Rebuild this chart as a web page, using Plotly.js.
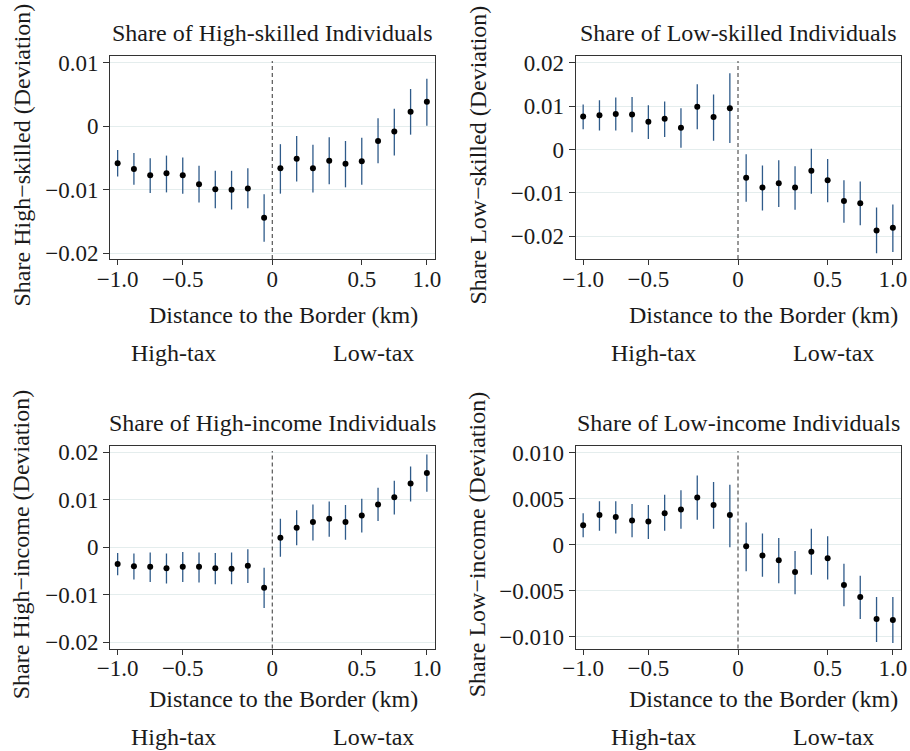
<!DOCTYPE html>
<html>
<head>
<meta charset="utf-8">
<script src="https://cdn.plot.ly/plotly-3.0.1.min.js"></script>
<style>html,body{margin:0;padding:0;background:#fff;}#chart{width:910px;height:751px;}</style>
</head>
<body>
<div id="chart"></div>
<script>
// Bin positions (20 equally spaced distance bins, border between bin 10 and 11)
const bins = [1,2,3,4,5,6,7,8,9,10,11,12,13,14,15,16,17,18,19,20];
const xTickVals = [1, 5, 10.5, 16, 20];
const xTickText = ['\u22121.0', '\u22120.5', '0', '0.5', '1.0'];

// Panel 1: Share of High-skilled Individuals
const hsEst = [-0.0058,-0.0067,-0.0077,-0.0074,-0.0077,-0.0091,-0.0099,-0.0100,-0.0098,-0.0144,-0.0066,-0.0051,-0.0066,-0.0054,-0.0059,-0.0055,-0.0023,-0.0008,0.0023,0.0039];
const hsHi  = [-0.0037,-0.0042,-0.0050,-0.0046,-0.0049,-0.0062,-0.0070,-0.0070,-0.0066,-0.0107,-0.0028,-0.0015,-0.0029,-0.0017,-0.0023,-0.0018,0.0013,0.0028,0.0059,0.0075];
const hsLo  = [-0.0079,-0.0092,-0.0105,-0.0104,-0.0106,-0.0120,-0.0129,-0.0131,-0.0129,-0.0182,-0.0106,-0.0087,-0.0104,-0.0091,-0.0096,-0.0092,-0.0058,-0.0046,-0.0013,0.0001];
const hsTickVals = [0.01, 0, -0.01, -0.02];
const hsTickText = ['0.01', '0', '\u22120.01', '\u22120.02'];

// Panel 2: Share of Low-skilled Individuals
const lsEst = [0.0076,0.0079,0.0082,0.0081,0.0064,0.0071,0.0050,0.0099,0.0075,0.0095,-0.0065,-0.0088,-0.0078,-0.0088,-0.0049,-0.0071,-0.0119,-0.0124,-0.0187,-0.0181];
const lsHi  = [0.0104,0.0114,0.0120,0.0121,0.0102,0.0111,0.0095,0.0151,0.0127,0.0176,-0.0011,-0.0037,-0.0025,-0.0039,0.0002,-0.0022,-0.0071,-0.0074,-0.0134,-0.0127];
const lsLo  = [0.0047,0.0044,0.0044,0.0040,0.0024,0.0029,0.0004,0.0047,0.0020,0.0015,-0.0121,-0.0141,-0.0133,-0.0139,-0.0102,-0.0122,-0.0169,-0.0175,-0.0240,-0.0237];
const lsTickVals = [0.02, 0.01, 0, -0.01, -0.02];
const lsTickText = ['0.02', '0.01', '0', '\u22120.01', '\u22120.02'];

// Panel 3: Share of High-income Individuals
const hiEst = [-0.0035,-0.0040,-0.0041,-0.0044,-0.0041,-0.0041,-0.0044,-0.0045,-0.0039,-0.0085,0.0020,0.0041,0.0053,0.0060,0.0053,0.0067,0.0090,0.0105,0.0134,0.0156];
const hiHi  = [-0.0012,-0.0013,-0.0011,-0.0013,-0.0010,-0.0011,-0.0012,-0.0011,-0.0004,-0.0043,0.0060,0.0078,0.0090,0.0096,0.0089,0.0102,0.0125,0.0140,0.0170,0.0195];
const hiLo  = [-0.0059,-0.0068,-0.0073,-0.0076,-0.0073,-0.0074,-0.0078,-0.0078,-0.0075,-0.0128,-0.0020,0.0004,0.0014,0.0022,0.0016,0.0031,0.0055,0.0069,0.0096,0.0117];
const hiTickVals = [0.02, 0.01, 0, -0.01, -0.02];
const hiTickText = ['0.02', '0.01', '0', '\u22120.01', '\u22120.02'];

// Panel 4: Share of Low-income Individuals
const liEst = [0.0021,0.0032,0.0030,0.0026,0.0025,0.0034,0.0038,0.0051,0.0043,0.0032,-0.0002,-0.0012,-0.0017,-0.0030,-0.0008,-0.0015,-0.0044,-0.0057,-0.0081,-0.0082];
const liHi  = [0.0034,0.0047,0.0047,0.0044,0.0043,0.0054,0.0059,0.0075,0.0068,0.0065,0.0024,0.0012,0.0007,-0.0007,0.0017,0.0009,-0.0021,-0.0034,-0.0057,-0.0057];
const liLo  = [0.0008,0.0015,0.0012,0.0008,0.0006,0.0015,0.0017,0.0027,0.0017,-0.0003,-0.0029,-0.0035,-0.0042,-0.0054,-0.0033,-0.0038,-0.0067,-0.0081,-0.0106,-0.0107];
const liTickVals = [0.010, 0.005, 0, -0.005, -0.010];
const liTickText = ['0.010', '0.005', '0', '\u22120.005', '\u22120.010'];

const panelTitles = ['Share of High-skilled Individuals', 'Share of Low-skilled Individuals',
                     'Share of High-income Individuals', 'Share of Low-income Individuals'];
const yTitles = ['Share High\u2212skilled (Deviation)', 'Share Low\u2212skilled (Deviation)',
                 'Share High\u2212income (Deviation)', 'Share Low\u2212income (Deviation)'];
const xTitle = 'Distance to the Border (km)';
const sideLabels = ['High-tax', 'Low-tax'];

const FONT = 'Liberation Serif, Times New Roman, serif';
const W = 910, H = 751;
const px = v => v / W;
const py = v => 1 - v / H;

const panels = [
  {est: hsEst, lo: hsLo, hi: hsHi, tv: hsTickVals, tt: hsTickText, range: [-0.0209, 0.0111]},
  {est: lsEst, lo: lsLo, hi: lsHi, tv: lsTickVals, tt: lsTickText, range: [-0.0253, 0.0216]},
  {est: hiEst, lo: hiLo, hi: hiHi, tv: hiTickVals, tt: hiTickText, range: [-0.0213, 0.0213]},
  {est: liEst, lo: liLo, hi: liHi, tv: liTickVals, tt: liTickText, range: [-0.0113, 0.0107]}
];

// pixel geometry of plot frames
const xDom = [[110, 435], [575.5, 901]];
const yDom = [[56, 259], [446, 648.5]];

const traces = [];
const layout = {
  width: W, height: H,
  margin: {l: 0, r: 0, t: 0, b: 0},
  paper_bgcolor: '#ffffff', plot_bgcolor: '#ffffff',
  showlegend: false,
  font: {family: FONT, size: 23, color: '#1a1a1a'},
  annotations: [], shapes: []
};

panels.forEach((p, i) => {
  const col = i % 2, row = Math.floor(i / 2);
  const n = i + 1;
  const xa = 'x' + (n === 1 ? '' : n), ya = 'y' + (n === 1 ? '' : n);
  const xk = 'xaxis' + (n === 1 ? '' : n), yk = 'yaxis' + (n === 1 ? '' : n);
  traces.push({
    type: 'scatter', mode: 'markers', x: bins, y: p.est, xaxis: xa, yaxis: ya,
    marker: {color: '#000000', size: 6},
    error_y: {type: 'data', symmetric: false,
      array: p.hi.map((h, k) => h - p.est[k]),
      arrayminus: p.est.map((e, k) => e - p.lo[k]),
      color: '#2f5b8a', thickness: 1.3, width: 0},
    hoverinfo: 'x+y'
  });
  const xd = xDom[col], yd = yDom[row];
  layout[xk] = {
    domain: [px(xd[0]), px(xd[1])], anchor: ya,
    range: [0.53, 20.5], tickmode: 'array', tickvals: xTickVals, ticktext: xTickText,
    ticks: 'outside', ticklen: 5, tickwidth: 1, tickcolor: '#333',
    ticklabelstandoff: -6,
    showline: true, linecolor: '#333', linewidth: 1, mirror: true,
    showgrid: false, zeroline: false,
    tickfont: {family: FONT, size: 23, color: '#1a1a1a'}
  };
  layout[yk] = {
    domain: [py(yd[1]), py(yd[0])], anchor: xa,
    range: p.range, tickmode: 'array', tickvals: p.tv, ticktext: p.tt,
    ticks: 'outside', ticklen: 6, tickwidth: 1, tickcolor: '#333',
    showline: true, linecolor: '#333', linewidth: 1, mirror: true,
    showgrid: true, gridcolor: '#e4eded', gridwidth: 1, zeroline: false,
    tickfont: {family: FONT, size: 23, color: '#1a1a1a'}
  };
  // border line
  layout.shapes.push({type: 'line', xref: xa, yref: ya + ' domain', x0: 10.5, x1: 10.5, y0: 0, y1: 0.975,
    line: {color: '#333', width: 1, dash: '4px,3px'}});
  const cx = (xd[0] + xd[1]) / 2;
  // panel title
  layout.annotations.push({text: panelTitles[i], xref: 'paper', yref: 'paper', x: px(cx), y: py(yd[0] - 23),
    xanchor: 'center', yanchor: 'middle', showarrow: false, font: {family: FONT, size: 24, color: '#1a1a1a'}});
  // x axis title
  layout.annotations.push({text: xTitle, xref: 'paper', yref: 'paper', x: px(cx + 11 + col * 14), y: py(row === 0 ? 315 : 699),
    xanchor: 'center', yanchor: 'middle', showarrow: false, font: {family: FONT, size: 24, color: '#1a1a1a'}});
  // High-tax / Low-tax
  layout.annotations.push({text: sideLabels[0], xref: 'paper', yref: 'paper', x: px(xd[0] + 63 + col * 15), y: py(row === 0 ? 353 : 737),
    xanchor: 'center', yanchor: 'middle', showarrow: false, font: {family: FONT, size: 24, color: '#1a1a1a'}});
  layout.annotations.push({text: sideLabels[1], xref: 'paper', yref: 'paper', x: px(xd[1] - 19 - col * 6), y: py(row === 0 ? 353 : 737),
    xanchor: 'right', yanchor: 'middle', showarrow: false, font: {family: FONT, size: 24, color: '#1a1a1a'}});
  // y title
  layout.annotations.push({text: yTitles[i], xref: 'paper', yref: 'paper', x: px(col === 0 ? 21 : 477), y: py((yd[0] + yd[1]) / 2 - 2),
    xanchor: 'center', yanchor: 'middle', textangle: -90, showarrow: false, font: {family: FONT, size: 24, color: '#1a1a1a'}});
});

Plotly.newPlot('chart', traces, layout, {staticPlot: true});
</script>
</body>
</html>
